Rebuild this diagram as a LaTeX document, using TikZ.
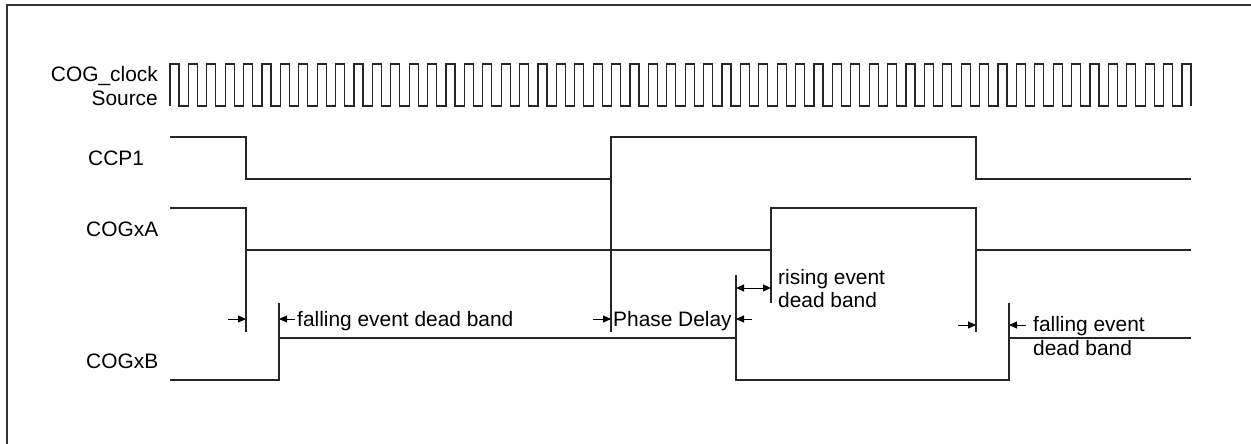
\documentclass[tikz,border=0pt]{standalone}
\usepackage{fontspec}
\setmainfont{Liberation Sans}
\usetikzlibrary{arrows.meta}
\begin{document}
\begin{tikzpicture}[x=1pt,y=-1pt,
  sig/.style={draw=black!85,line width=1.2pt,line join=miter},
  frame/.style={draw=black!80,line width=1.3pt},
  lbl/.style={inner sep=0pt,font=\fontsize{20.9}{24}\selectfont,text=black},
  dim/.style={draw=black,line width=1pt,-{Triangle[length=8pt,width=7pt]}},
  ddim/.style={draw=black,line width=1pt,{Triangle[length=8pt,width=7pt]}-{Triangle[length=8pt,width=7pt]}},
]
\useasboundingbox (0,0) rectangle (1251,444);
\fill[white] (0,0) rectangle (1251,444);
\draw[frame] (7,444) -- (7,5) -- (1251,5);

% labels
\node[lbl,anchor=base east] (clk1) at (158,81.5) {COG\_clock};
\node[lbl,anchor=base east] (clk2) at (158,106) {Source};
\node[lbl,anchor=base west] (lccp) at (88,165.5) {CCP1};
\node[lbl,anchor=base west] (lA) at (86,236.5) {COGxA};
\node[lbl,anchor=base west] (lB) at (86,368) {COGxB};

% clock
\draw[sig] (170,106) \foreach \k in {0,...,54}{ -- ++(0,-42) -- ++(8.9,0) -- ++(0,42) -- ++(9.5,0)} -- ++(0,-42) -- ++(8.9,0) -- ++(0,42);

% CCP1
\draw[sig] (170,137) -- (246,137) -- (246,179) -- (611,179) -- (611,137) -- (976,137) -- (976,179) -- (1191,179);
\draw[sig] (611,179) -- (611,332);

% COGxA
\draw[sig] (170,208) -- (246,208) -- (246,250) -- (771,250) -- (771,208) -- (976,208) -- (976,250) -- (1191,250);
\draw[sig] (246,250) -- (246,332);
\draw[sig] (771,250) -- (771,303);
\draw[sig] (976,250) -- (976,332);

% COGxB
\draw[sig] (170,380) -- (279,380) -- (279,338) -- (736,338) -- (736,380) -- (1009,380) -- (1009,338) -- (1191,338);
\draw[sig] (279,338) -- (279,303);
\draw[sig] (736,338) -- (736,275);
\draw[sig] (1009,338) -- (1009,303);

% dimension arrows
\coordinate (a1s) at (228,319); \coordinate (a1e) at (246,319);
\coordinate (a2s) at (295,319); \coordinate (a2e) at (279,319);
\draw[dim] (a1s) -- (a1e);
\draw[dim] (a2s) -- (a2e);
\node[lbl,anchor=base west] (t1) at (297,326) {falling event dead band};

\coordinate (p1s) at (593,319); \coordinate (p1e) at (611,319);
\coordinate (p2s) at (752,319); \coordinate (p2e) at (736,319);
\draw[dim] (p1s) -- (p1e);
\draw[dim] (p2s) -- (p2e);
\node[lbl,anchor=base west] (t2) at (613,326) {Phase Delay};

\coordinate (r1) at (736,288); \coordinate (r2) at (771,288);
\draw[ddim] (r1) -- (r2);
\node[lbl,anchor=base west] (t3a) at (778,284) {rising event};
\node[lbl,anchor=base west] (t3b) at (778,307.5) {dead band};

\coordinate (f1s) at (958,325); \coordinate (f1e) at (976,325);
\coordinate (f2s) at (1026,325); \coordinate (f2e) at (1009,325);
\draw[dim] (f1s) -- (f1e);
\draw[dim] (f2s) -- (f2e);
\node[lbl,anchor=base west] (t4a) at (1033,331.5) {falling event};
\node[lbl,anchor=base west] (t4b) at (1033,355.5) {dead band};
\end{tikzpicture}
\end{document}
